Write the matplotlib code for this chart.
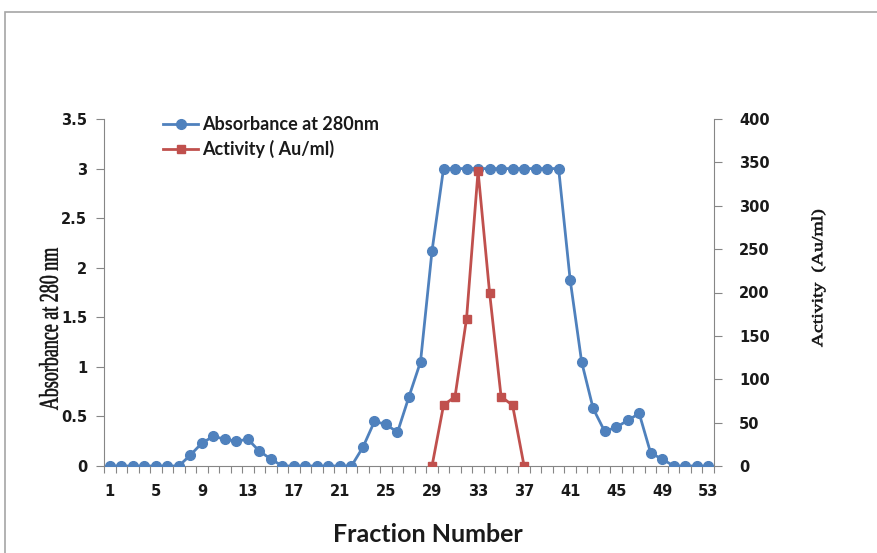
import numpy as np
import matplotlib
matplotlib.use('Agg')
import matplotlib.pyplot as plt
from matplotlib.patches import Rectangle, PathPatch
from matplotlib.textpath import TextPath
from matplotlib.font_manager import FontProperties
from matplotlib.transforms import Affine2D

# fraction numbers
fractions = np.arange(1, 54)

# absorbance at 280 nm (left axis)
absorbance = [0, 0, 0, 0, 0, 0, 0, 0.11, 0.23, 0.30,
              0.27, 0.25, 0.27, 0.15, 0.07, 0, 0, 0, 0, 0,
              0, 0, 0.19, 0.45, 0.42, 0.34, 0.70, 1.05, 2.17, 3,
              3, 3, 3, 3, 3, 3, 3, 3, 3, 3,
              1.88, 1.05, 0.58, 0.35, 0.39, 0.46, 0.53, 0.13, 0.07, 0,
              0, 0, 0]

# activity (right axis), fractions 29-37
act_fractions = [29, 30, 31, 32, 33, 34, 35, 36, 37]
activity = [0, 70, 80, 170, 340, 200, 80, 70, 0]

xtick_labels = list(range(1, 54, 4))

blue = '#4F81BD'
red = '#C0504D'
spine_col = '#868686'
W, H = 877, 553

fig = plt.figure(figsize=(W / 100, H / 100), dpi=100)
# grey chart-area border (left and top visible)
fig.patches.append(Rectangle((5 / W, -0.1), 1.1, 1 - 12 / H + 0.1, transform=fig.transFigure,
                             fill=False, edgecolor='#a6a6a6', linewidth=1.2))

ax = fig.add_axes([104 / W, 87 / H, 610 / W, 347 / H])
ax2 = ax.twinx()

l1, = ax.plot(fractions, absorbance, color=blue, marker='o', markersize=7, linewidth=2,
              label='Absorbance at 280nm', zorder=3)
l2, = ax2.plot(act_fractions, activity, color=red, marker='s', markersize=6.3, linewidth=2,
               label='Activity ( Au/ml)', zorder=4)

ax.set_xlim(0.5, 53.5)
ax.set_ylim(0, 3.5)
ax2.set_ylim(0, 400)
ax.set_yticks(np.arange(0, 3.51, 0.5))
ax.set_yticklabels(['0', '0.5', '1', '1.5', '2', '2.5', '3', '3.5'])
ax2.set_yticks(np.arange(0, 401, 50))

# category ticks sit between points, labels every 4th fraction
ax.set_xticks(np.arange(0.5, 54, 1))
ax.set_xticklabels([])
ax.set_xticks(xtick_labels, minor=True)
ax.set_xticklabels([str(v) for v in xtick_labels], minor=True)
ax.tick_params(axis='x', which='major', length=5, color=spine_col, direction='out')
ax.tick_params(axis='x', which='minor', length=0, pad=13)

for a in (ax, ax2):
    for s in a.spines.values():
        s.set_color(spine_col)
    a.spines['top'].set_visible(False)
ax.spines['right'].set_visible(False)
ax2.spines['left'].set_visible(False)
ax2.spines['bottom'].set_visible(False)

ax.tick_params(axis='y', length=6, color=spine_col, pad=6)
ax2.tick_params(axis='y', length=6, color=spine_col, pad=12)

for lab in ax.get_yticklabels() + ax2.get_yticklabels() + ax.get_xticklabels(minor=True):
    lab.set_fontfamily('DejaVu Sans')
    lab.set_fontweight('bold')
    lab.set_fontsize(10.5)
    lab.set_color('#1a1a1a')


def squeezed_label(text, cx, cy, length, height):
    # rotated serif label squeezed to the size it has in the picture (pixel units)
    tp = TextPath((0, 0), text, size=20, prop=FontProperties(family='Liberation Serif'))
    ext = tp.get_extents()
    tr = (Affine2D().translate(-(ext.x0 + ext.width / 2), -(ext.y0 + ext.height / 2))
          .scale(length / ext.width, height / ext.height).rotate_deg(90)
          .translate(cx, H - cy).scale(1 / W, 1 / H))
    fig.patches.append(PathPatch(tr.transform_path(tp), transform=fig.transFigure,
                                 facecolor='#111111', edgecolor='#111111', linewidth=0.4))


squeezed_label('Absorbance at 280 nm', 48.5, 329, 162, 19)
squeezed_label('Activity  (Au/ml)', 818.5, 278.5, 137, 14)

fig.text(428 / W, 1 - 535 / H, 'Fraction Number', ha='center', va='center',
         family='Lato', fontweight='bold', fontsize=18, color='#1a1a1a')

leg = ax2.legend(handles=[l1, l2], loc='upper left', bbox_to_anchor=(163 / W, 1 - 116 / H),
                 bbox_transform=fig.transFigure, frameon=False, numpoints=1,
                 borderpad=0, borderaxespad=0,
                 handlelength=1.95, handletextpad=0.2, labelspacing=0.38,
                 prop={'family': 'Lato', 'weight': 'bold', 'size': 13})
for t in leg.get_texts():
    t.set_color('#1a1a1a')

plt.savefig('out.png', dpi=100)
